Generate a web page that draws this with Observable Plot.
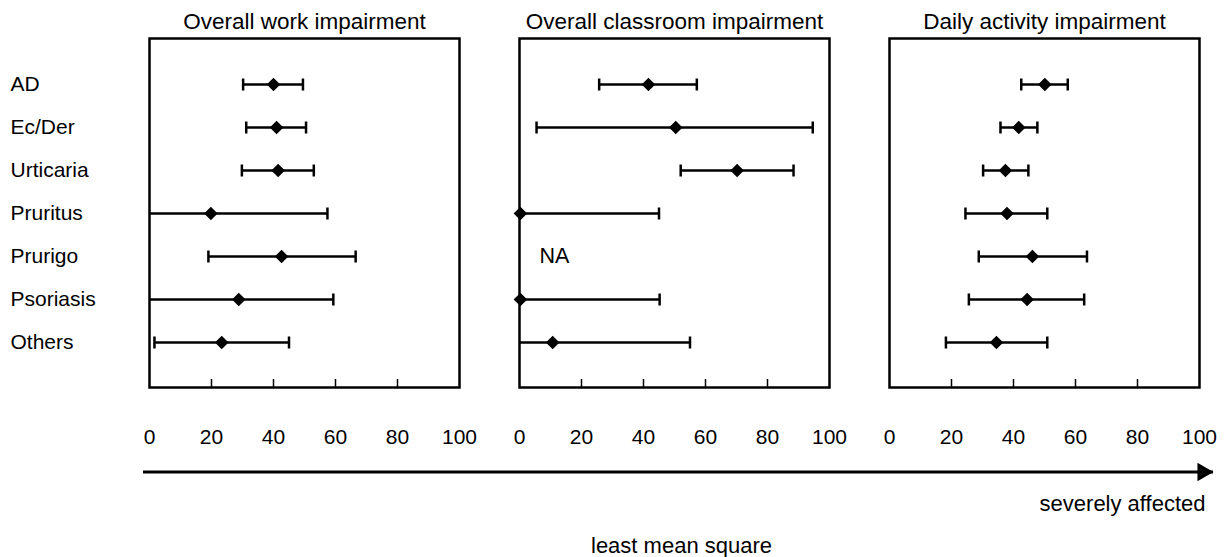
<!DOCTYPE html>
<html>
<head>
<meta charset="utf-8">
<script src="https://cdn.jsdelivr.net/npm/d3@7"></script>
<script src="https://cdn.jsdelivr.net/npm/@observablehq/plot@0.6"></script>
<style>
  html, body { margin: 0; padding: 0; background: #fff; overflow: hidden; }
  #chart svg { display: block; }
</style>
</head>
<body>
<div id="chart"></div>
<script>
// ---- data ----
const panels = ["Overall work impairment", "Overall classroom impairment", "Daily activity impairment"];
const rows = ["AD", "Ec/Der", "Urticaria", "Pruritus", "Prurigo", "Psoriasis", "Others"];

const workMean = [40, 41, 41.5, 19.8, 42.6, 28.8, 23.3];
const workLow  = [30.2, 31.2, 29.8, -18, 19, -2, 1.6];
const workHigh = [49.5, 50.5, 53, 57.4, 66.5, 59.3, 45];

const classMean = [41.6, 50.4, 70.2, 0.3, null, 0.3, 10.7];
const classLow  = [25.7, 5.5, 52, -44, null, -44, -33];
const classHigh = [57.2, 94.6, 88.4, 45, null, 45.2, 55];

const dailyMean = [50.1, 41.7, 37.4, 37.9, 46.1, 44.4, 34.5];
const dailyLow  = [42.5, 35.8, 30.2, 24.5, 28.8, 25.6, 18.2];
const dailyHigh = [57.5, 47.7, 44.8, 50.9, 63.7, 62.8, 50.9];

const xTicks = [0, 20, 40, 60, 80, 100];
const innerTicks = [20, 40, 60, 80];
const naLabels = [{panel: panels[1], row: "Prurigo", x: 11.3, text: "NA"}];

const arrowLine = [{from: 0, to: 1}];
const noteSevere = [{x: 1, y: 0.43, text: "severely affected"}];
const noteAxis = [{x: 0.5, y: 1, text: "least mean square"}];

// ---- table ----
const series = [
  {panel: panels[0], mean: workMean, low: workLow, high: workHigh},
  {panel: panels[1], mean: classMean, low: classLow, high: classHigh},
  {panel: panels[2], mean: dailyMean, low: dailyLow, high: dailyHigh}
];
const table = series.flatMap(s => rows.map((r, i) => ({
  panel: s.panel, row: r, mean: s.mean[i], low: s.low[i], high: s.high[i]
}))).filter(d => d.mean != null);

// vertical cap symbol for error bars
const capSymbol = {
  draw(context, size) {
    const h = Math.sqrt(size / Math.PI);
    context.moveTo(0, -h);
    context.lineTo(0, h);
  }
};

const font = "'Liberation Sans', Arial, Helvetica, sans-serif";
const topH = 455, mTop = 38, mBottom = 68;
const frameH = topH - mTop - mBottom;

const mainPlot = Plot.plot({
  width: 1228,
  height: topH,
  marginTop: mTop,
  marginBottom: mBottom,
  marginLeft: 149,
  marginRight: 28,
  style: {fontFamily: font, color: "black", background: "white"},
  fx: {domain: panels, paddingInner: 0.162, paddingOuter: 0, label: null},
  x: {domain: [0, 100], label: null},
  y: {type: "point", domain: rows, padding: 1, label: null},
  marks: [
    Plot.axisFx({anchor: "top", tickSize: 0, tickPadding: 10, fontSize: 22.5, label: null}),
    Plot.axisY({tickSize: 0, tickPadding: 0, textAnchor: "start", dx: -139, fontSize: 21, label: null}),
    Plot.axisX({ticks: xTicks, tickSize: 0, tickPadding: 42, fontSize: 21, label: null}),
    Plot.tickX(innerTicks, {x: d => d, insetTop: frameH - 8, strokeWidth: 1.5}),
    Plot.ruleY(table, {fx: "panel", y: "row", x1: "low", x2: "high", strokeWidth: 2.5, clip: true}),
    Plot.dot(table, {fx: "panel", y: "row", x: "low", symbol: capSymbol, r: 6, fill: "none", stroke: "black", strokeWidth: 2.5, clip: true}),
    Plot.dot(table, {fx: "panel", y: "row", x: "high", symbol: capSymbol, r: 6, fill: "none", stroke: "black", strokeWidth: 2.5, clip: true}),
    Plot.dot(table, {fx: "panel", y: "row", x: "mean", symbol: "diamond2", r: 6.1, fill: "black", stroke: "none"}),
    Plot.text(naLabels, {fx: "panel", y: "row", x: "x", text: "text", fontSize: 21.5}),
    Plot.frame({stroke: "black", strokeWidth: 2.5})
  ]
});

const arrowPlot = Plot.plot({
  width: 1228,
  height: 102,
  marginTop: 0,
  marginBottom: 0,
  marginLeft: 143,
  marginRight: 15,
  style: {fontFamily: font, color: "black", background: "white"},
  x: {domain: [0, 1], axis: null},
  y: {domain: [0, 1], range: [16.5, 90], axis: null},
  marks: [
    Plot.ruleY(arrowLine, {y: 0, x1: "from", x2: "to", strokeWidth: 3}),
    Plot.dot(arrowLine, {x: "to", y: 0, symbol: "triangle", rotate: 90, r: 6.9, fill: "black", stroke: "none", dx: -10.7}),
    Plot.text(noteSevere, {x: "x", y: "y", text: "text", textAnchor: "end", dx: -8, fontSize: 22}),
    Plot.text(noteAxis, {x: "x", y: "y", text: "text", textAnchor: "middle", dx: 3, fontSize: 22})
  ]
});

const el = document.getElementById("chart");
el.appendChild(mainPlot);
el.appendChild(arrowPlot);
</script>
</body>
</html>
